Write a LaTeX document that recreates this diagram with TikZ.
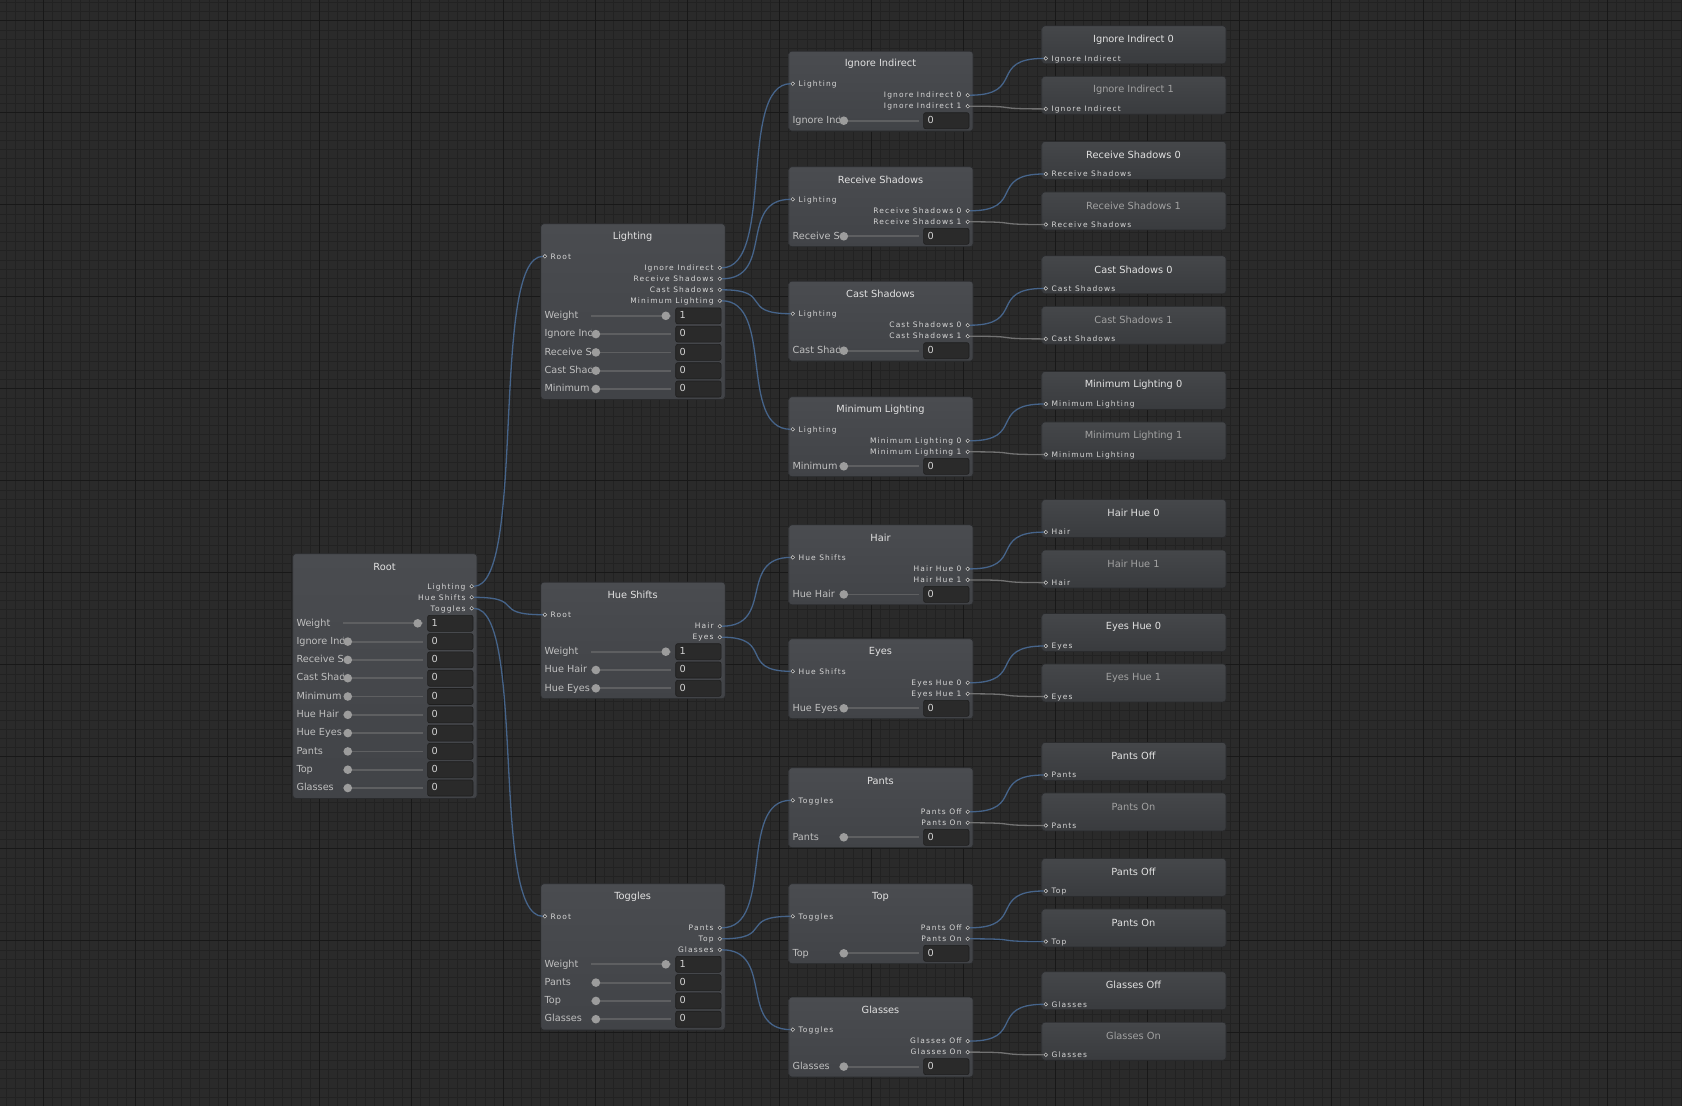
\documentclass[tikz,border=0pt]{standalone}
\usepackage{fontspec}
\setmainfont{DejaVu Sans}
\newfontfamily\portfont[LetterSpace=15]{DejaVu Sans}
\definecolor{bgc}{HTML}{2A2A2A}
\definecolor{gridminorc}{HTML}{222222}
\definecolor{gridmajorc}{HTML}{181818}
\definecolor{nodetop}{HTML}{4A4C50}
\definecolor{nodebot}{HTML}{414347}
\definecolor{leaftop}{HTML}{45474A}
\definecolor{leafbot}{HTML}{393B3E}
\definecolor{nodeedge}{HTML}{2A2B2D}
\definecolor{titlec}{HTML}{E2E2E2}
\definecolor{titledimc}{HTML}{A2A2A2}
\definecolor{portc}{HTML}{D6D6D6}
\definecolor{portring}{HTML}{C4C4C4}
\definecolor{labelc}{HTML}{C0C0C0}
\definecolor{trackc}{HTML}{5E5F61}
\definecolor{knobc}{HTML}{9C9C9C}
\definecolor{boxc}{HTML}{2A2A2A}
\definecolor{boxedge}{HTML}{1E1E1E}
\definecolor{valc}{HTML}{D2D2D2}
\definecolor{edgeonc}{HTML}{46648A}
\definecolor{edgeoffc}{HTML}{727272}
\pgfdeclarelayer{gridl}
\pgfdeclarelayer{boxes}
\pgfdeclarelayer{edges}
\pgfsetlayers{gridl,boxes,edges,main}
\tikzset{
  nodebox/.style={draw=nodeedge, line width=0.8pt, rounded corners=3pt, top color=nodetop, bottom color=nodebot, inner sep=0pt},
  leafbox/.style={draw=nodeedge, line width=0.8pt, rounded corners=3pt, top color=leaftop, bottom color=leafbot, inner sep=0pt},
  titletext/.style={text=titlec, font=\fontsize{9.8}{11}\selectfont, inner sep=0pt},
  titledim/.style={titletext, text=titledimc},
  portdot/.style={circle, draw=portring, fill=boxc, line width=0.6pt, minimum size=3.6pt, inner sep=0pt},
  portlabel/.style={text=portc, font=\portfont\fontsize{7.5}{9}\selectfont, inner sep=0pt},
  sliderlabel/.style={text=labelc, font=\fontsize{9.7}{11}\selectfont, inner sep=0pt},
  track/.style={draw=trackc, line width=1.8pt},
  knob/.style={circle, fill=knobc, minimum size=8.6pt, inner sep=0pt},
  valbox/.style={draw=boxedge, fill=boxc, rounded corners=2pt, minimum width=45.4pt, minimum height=16pt, inner sep=0pt, line width=0.6pt},
  valtext/.style={text=valc, font=\fontsize{9.7}{11}\selectfont, inner sep=0pt},
  wireon/.style={draw=edgeonc, line width=1.3pt},
  wireoff/.style={draw=edgeoffc, line width=1.3pt},
  gridminor/.style={draw=gridminorc, line width=0.8pt},
  gridmajor/.style={draw=gridmajorc, line width=1pt},
}
% box: name, L, T, H, style
\newcommand\ubox[5]{%
  \begin{pgfonlayer}{boxes}
    \node[#5, minimum width=184.4pt, minimum height=#4pt, anchor=north west] (#1) at (#2,#3) {};
  \end{pgfonlayer}}
% input port: name, L, y, label
\newcommand\inport[4]{%
  \node[portdot] (#1) at ({#2+4.5},{#3}) {};
  \node[portlabel, anchor=mid west] (#1-l) at ({#2+10},{#3}) {#4};}
% output port: name, R, y, label
\newcommand\outport[4]{%
  \node[portdot] (#1) at ({#2-5},{#3}) {};
  \node[portlabel, anchor=mid east] (#1-l) at ({#2-11},{#3}) {#4};}
% slider: name, L, y, label, value
\newcommand\uslider[5]{%
  \pgfmathsetmacro\sL{#2}%
  \pgfmathsetmacro\sY{#3}%
  \pgfmathsetmacro\sR{\sL+184.4}%
  \ifnum#5=1 \pgfmathsetmacro\sK{\sR-59}\else\pgfmathsetmacro\sK{\sL+55.5}\fi
  \begin{scope}
    \clip (\sL+1,\sY-9) rectangle (\sL+51,\sY+9);
    \node[sliderlabel, anchor=mid west] (#1-l) at (\sL+4,\sY) {#4};
  \end{scope}
  \draw[track] (\sL+51,\sY) -- (\sR-54,\sY);
  \node[knob] (#1-k) at (\sK,\sY) {};
  \node[valbox, anchor=west] (#1-b) at (\sR-49.4,\sY) {};
  \node[valtext, anchor=mid west] (#1-v) at (\sR-45.4,\sY) {#5};}
% branch node: name, T, title, input label, out0, out1, slider label
\newcommand\branch[7]{%
  \pgfmathsetmacro\bT{#2}%
  \ubox{#1}{788.3}{\bT}{80}{nodebox}%
  \node[titletext] (#1-t) at (880.5,\bT+13.5) {#3};
  \inport{#1-in}{788.3}{\bT+33}{#4}%
  \outport{#1-o0}{972.7}{\bT+44.5}{#5}%
  \outport{#1-o1}{972.7}{\bT+55.5}{#6}%
  \uslider{#1-s}{788.3}{\bT+70}{#7}{0}}
% leaf node: name, T, title, input label, title style
\newcommand\leaf[5]{%
  \pgfmathsetmacro\lT{#2}%
  \ubox{#1}{1041.3}{\lT}{38}{leafbox}%
  \node[#5] (#1-t) at (1133.5,\lT+14) {#3};
  \inport{#1-in}{1041.3}{\lT+33}{#4}}
% wire: style, from, to, tangent
\newcommand\wire[4]{%
  \begin{pgfonlayer}{edges}
    \draw[#1] (#2) .. controls +(#4,0) and +(-#4,0) .. (#3);
  \end{pgfonlayer}}
\begin{document}
\begin{tikzpicture}[x=1pt,y=-1pt]
\useasboundingbox (0,0) rectangle (1682,1106);
\begin{pgfonlayer}{gridl}
  \fill[bgc] (0,0) rectangle (1682,1106);
  \foreach \i in {0,...,182} {\draw[gridminor] ({6.5+9.2*\i},0) -- ({6.5+9.2*\i},1106);}
  \foreach \i in {0,...,119} {\draw[gridminor] (0,{2.3+9.2*\i}) -- (1682,{2.3+9.2*\i});}
  \foreach \i in {0,...,17} {\draw[gridmajor] ({43.3+92*\i},0) -- ({43.3+92*\i},1106);}
  \foreach \i in {0,...,11} {\draw[gridmajor] (0,{20.7+92*\i}) -- (1682,{20.7+92*\i});}
\end{pgfonlayer}

% ---------- Root ----------
\ubox{root}{292.3}{553.3}{244.7}{nodebox}
\node[titletext] (root-t) at (384.5,567) {Root};
\outport{root-o1}{476.7}{586.3}{Lighting}
\outport{root-o2}{476.7}{597.3}{Hue Shifts}
\outport{root-o3}{476.7}{608.3}{Toggles}
\uslider{root-s0}{292.3}{623.3}{Weight}{1}
\uslider{root-s1}{292.3}{641.6}{Ignore Indirect}{0}
\uslider{root-s2}{292.3}{659.9}{Receive Shadows}{0}
\uslider{root-s3}{292.3}{678.2}{Cast Shadows}{0}
\uslider{root-s4}{292.3}{696.5}{Minimum Lighting}{0}
\uslider{root-s5}{292.3}{714.8}{Hue Hair}{0}
\uslider{root-s6}{292.3}{733.1}{Hue Eyes}{0}
\uslider{root-s7}{292.3}{751.4}{Pants}{0}
\uslider{root-s8}{292.3}{769.7}{Top}{0}
\uslider{root-s9}{292.3}{788.0}{Glasses}{0}

% ---------- Lighting ----------
\ubox{light}{540.4}{223.3}{175.7}{nodebox}
\node[titletext] (light-t) at (632.6,236.8) {Lighting};
\inport{light-in}{540.4}{256.3}{Root}
\outport{light-o1}{724.8}{267.8}{Ignore Indirect}
\outport{light-o2}{724.8}{278.8}{Receive Shadows}
\outport{light-o3}{724.8}{289.8}{Cast Shadows}
\outport{light-o4}{724.8}{300.8}{Minimum Lighting}
\uslider{light-s0}{540.4}{315.8}{Weight}{1}
\uslider{light-s1}{540.4}{334.1}{Ignore Indirect}{0}
\uslider{light-s2}{540.4}{352.4}{Receive Shadows}{0}
\uslider{light-s3}{540.4}{370.7}{Cast Shadows}{0}
\uslider{light-s4}{540.4}{389.0}{Minimum Lighting}{0}

% ---------- Hue Shifts ----------
\ubox{hue}{540.4}{581.7}{116.6}{nodebox}
\node[titletext] (hue-t) at (632.6,595.2) {Hue Shifts};
\inport{hue-in}{540.4}{614.7}{Root}
\outport{hue-o1}{724.8}{626.2}{Hair}
\outport{hue-o2}{724.8}{637.2}{Eyes}
\uslider{hue-s0}{540.4}{651.7}{Weight}{1}
\uslider{hue-s1}{540.4}{670.0}{Hue Hair}{0}
\uslider{hue-s2}{540.4}{688.3}{Hue Eyes}{0}

% ---------- Toggles ----------
\ubox{tog}{540.4}{883.3}{146.4}{nodebox}
\node[titletext] (tog-t) at (632.6,896.8) {Toggles};
\inport{tog-in}{540.4}{916.3}{Root}
\outport{tog-o1}{724.8}{927.8}{Pants}
\outport{tog-o2}{724.8}{938.8}{Top}
\outport{tog-o3}{724.8}{949.8}{Glasses}
\uslider{tog-s0}{540.4}{964.3}{Weight}{1}
\uslider{tog-s1}{540.4}{982.6}{Pants}{0}
\uslider{tog-s2}{540.4}{1000.9}{Top}{0}
\uslider{tog-s3}{540.4}{1019.2}{Glasses}{0}

% ---------- third column ----------
\branch{ii}{50.7}{Ignore Indirect}{Lighting}{Ignore Indirect 0}{Ignore Indirect 1}{Ignore Indirect}
\branch{rs}{166.3}{Receive Shadows}{Lighting}{Receive Shadows 0}{Receive Shadows 1}{Receive Shadows}
\branch{cs}{280.7}{Cast Shadows}{Lighting}{Cast Shadows 0}{Cast Shadows 1}{Cast Shadows}
\branch{ml}{396.3}{Minimum Lighting}{Lighting}{Minimum Lighting 0}{Minimum Lighting 1}{Minimum Lighting}
\branch{hair}{524.4}{Hair}{Hue Shifts}{Hair Hue 0}{Hair Hue 1}{Hue Hair}
\branch{eyes}{638.3}{Eyes}{Hue Shifts}{Eyes Hue 0}{Eyes Hue 1}{Hue Eyes}
\branch{pants}{767.3}{Pants}{Toggles}{Pants Off}{Pants On}{Pants}
\branch{top}{883.3}{Top}{Toggles}{Pants Off}{Pants On}{Top}
\branch{glasses}{996.6}{Glasses}{Toggles}{Glasses Off}{Glasses On}{Glasses}

% ---------- leaves ----------
\leaf{ii0}{25.4}{Ignore Indirect 0}{Ignore Indirect}{titletext}
\leaf{ii1}{75.9}{Ignore Indirect 1}{Ignore Indirect}{titledim}
\leaf{rs0}{141.0}{Receive Shadows 0}{Receive Shadows}{titletext}
\leaf{rs1}{191.5}{Receive Shadows 1}{Receive Shadows}{titledim}
\leaf{cs0}{255.4}{Cast Shadows 0}{Cast Shadows}{titletext}
\leaf{cs1}{305.9}{Cast Shadows 1}{Cast Shadows}{titledim}
\leaf{ml0}{371.0}{Minimum Lighting 0}{Minimum Lighting}{titletext}
\leaf{ml1}{421.5}{Minimum Lighting 1}{Minimum Lighting}{titledim}
\leaf{hair0}{499.1}{Hair Hue 0}{Hair}{titletext}
\leaf{hair1}{549.6}{Hair Hue 1}{Hair}{titledim}
\leaf{eyes0}{613.0}{Eyes Hue 0}{Eyes}{titletext}
\leaf{eyes1}{663.5}{Eyes Hue 1}{Eyes}{titledim}
\leaf{pants0}{742.0}{Pants Off}{Pants}{titletext}
\leaf{pants1}{792.5}{Pants On}{Pants}{titledim}
\leaf{top0}{858.0}{Pants Off}{Top}{titletext}
\leaf{top1}{908.5}{Pants On}{Top}{titletext}
\leaf{glasses0}{971.3}{Glasses Off}{Glasses}{titletext}
\leaf{glasses1}{1021.8}{Glasses On}{Glasses}{titledim}

% ---------- wires ----------
\wire{wireon}{root-o1}{light-in}{55}
\wire{wireon}{root-o2}{hue-in}{55}
\wire{wireon}{root-o3}{tog-in}{55}
\wire{wireon}{light-o1}{ii-in}{55}
\wire{wireon}{light-o2}{rs-in}{55}
\wire{wireon}{light-o3}{cs-in}{55}
\wire{wireon}{light-o4}{ml-in}{55}
\wire{wireon}{hue-o1}{hair-in}{55}
\wire{wireon}{hue-o2}{eyes-in}{55}
\wire{wireon}{tog-o1}{pants-in}{55}
\wire{wireon}{tog-o2}{top-in}{55}
\wire{wireon}{tog-o3}{glasses-in}{55}
\wire{wireon}{ii-o0}{ii0-in}{58}
\wire{wireoff}{ii-o1}{ii1-in}{58}
\wire{wireon}{rs-o0}{rs0-in}{58}
\wire{wireoff}{rs-o1}{rs1-in}{58}
\wire{wireon}{cs-o0}{cs0-in}{58}
\wire{wireoff}{cs-o1}{cs1-in}{58}
\wire{wireon}{ml-o0}{ml0-in}{58}
\wire{wireoff}{ml-o1}{ml1-in}{58}
\wire{wireon}{hair-o0}{hair0-in}{58}
\wire{wireoff}{hair-o1}{hair1-in}{58}
\wire{wireon}{eyes-o0}{eyes0-in}{58}
\wire{wireoff}{eyes-o1}{eyes1-in}{58}
\wire{wireon}{pants-o0}{pants0-in}{58}
\wire{wireoff}{pants-o1}{pants1-in}{58}
\wire{wireon}{top-o0}{top0-in}{58}
\wire{wireon}{top-o1}{top1-in}{58}
\wire{wireon}{glasses-o0}{glasses0-in}{58}
\wire{wireoff}{glasses-o1}{glasses1-in}{58}
\end{tikzpicture}
\end{document}
